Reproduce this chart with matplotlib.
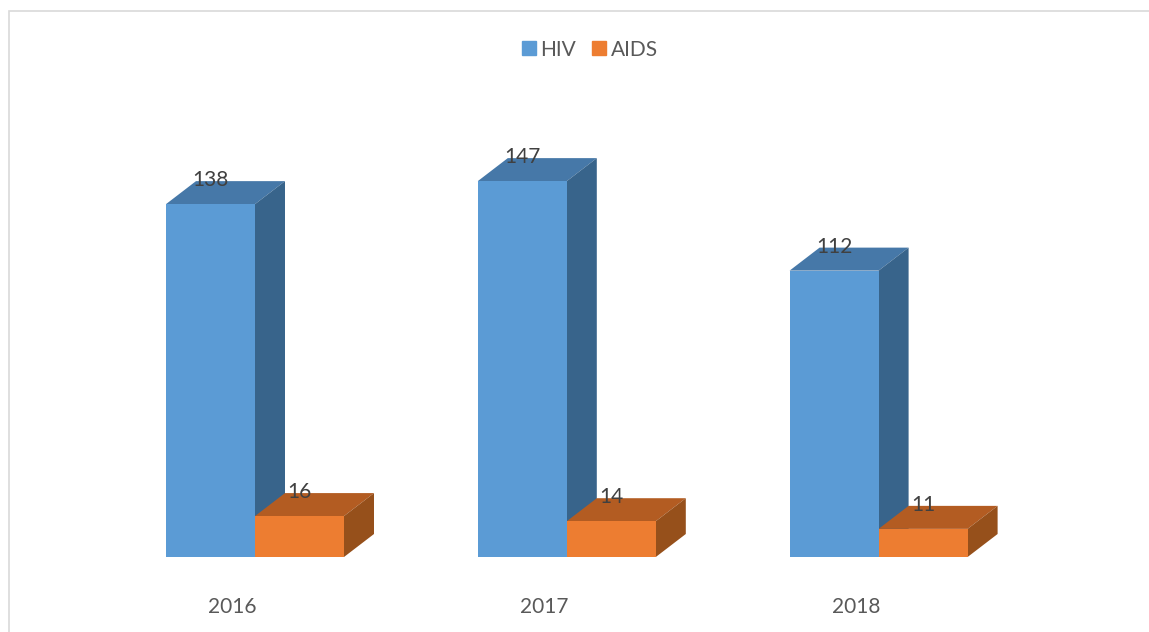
import matplotlib
matplotlib.use("Agg")
from matplotlib import pyplot as plt
from matplotlib.patches import Polygon, Rectangle, Patch
import numpy as np

years = ["2016", "2017", "2018"]
hiv = [138, 147, 112]
aids = [16, 14, 11]

W, H = 1149, 632
BASE = 557  # pixel row of the bar baseline
PX_PER_UNIT = 2.557
PITCH = 311.8  # pixels between groups
FIRST = 255  # pixel column of first group centre

plt.rcParams['font.family'] = ['Lato', 'DejaVu Sans']

fig = plt.figure(figsize=(W / 100, H / 100), dpi=100)
fig.add_artist(Rectangle((9 / W, -0.01), 1.1, (H - 10.5) / H + 0.01,
                         transform=fig.transFigure, fc='white', ec='#d9d9d9', lw=1.2, zorder=-1))

ax = fig.add_axes([0, (H - BASE) / H, 1, BASE / H])
ax.set_xlim(-FIRST / PITCH, (W - FIRST) / PITCH)
ax.set_ylim(0, BASE / PX_PER_UNIT)
ax.patch.set_alpha(0)
for s in ax.spines.values():
    s.set_visible(False)

bar_w = 89 / PITCH
dx = 30 / PITCH  # depth of the fake 3d box
dy = 23 / PX_PER_UNIT


def box3d(x, values, front, top, side):
    ax.bar(x, values, bar_w, align='edge', color=front, zorder=3)
    for xi, v in zip(x, values):
        ax.add_patch(Polygon([(xi, v), (xi + dx, v + dy), (xi + bar_w + dx, v + dy), (xi + bar_w, v)],
                             fc=top, ec='none', zorder=2))
        ax.add_patch(Polygon([(xi + bar_w, 0), (xi + bar_w + dx, dy), (xi + bar_w + dx, v + dy), (xi + bar_w, v)],
                             fc=side, ec='none', zorder=2))
        ax.text(xi + bar_w / 2, v + 24 / PX_PER_UNIT, str(v), ha='center', va='center',
                fontsize=15, color='#404040', zorder=5)


x = np.arange(len(years))
box3d(x - bar_w, hiv, '#5b9bd5', '#4678a8', '#38648b')
box3d(x, aids, '#ed7d31', '#b35c22', '#96501b')

ax.set_xticks(x - 22.5 / PITCH, years)
ax.set_yticks([])
ax.tick_params(axis='x', length=0, pad=29, labelsize=15, labelcolor='#595959')

handles = [Patch(color='#5b9bd5', label='HIV'), Patch(color='#ed7d31', label='AIDS')]
fig.legend(handles=handles, loc='center', bbox_to_anchor=(590 / W, 1 - 49.5 / H), ncol=2, frameon=False,
           fontsize=15, labelcolor='#595959', handlelength=0.67, handleheight=0.67,
           handletextpad=0.24, columnspacing=0.77)

fig.savefig("out.png", dpi=100)
